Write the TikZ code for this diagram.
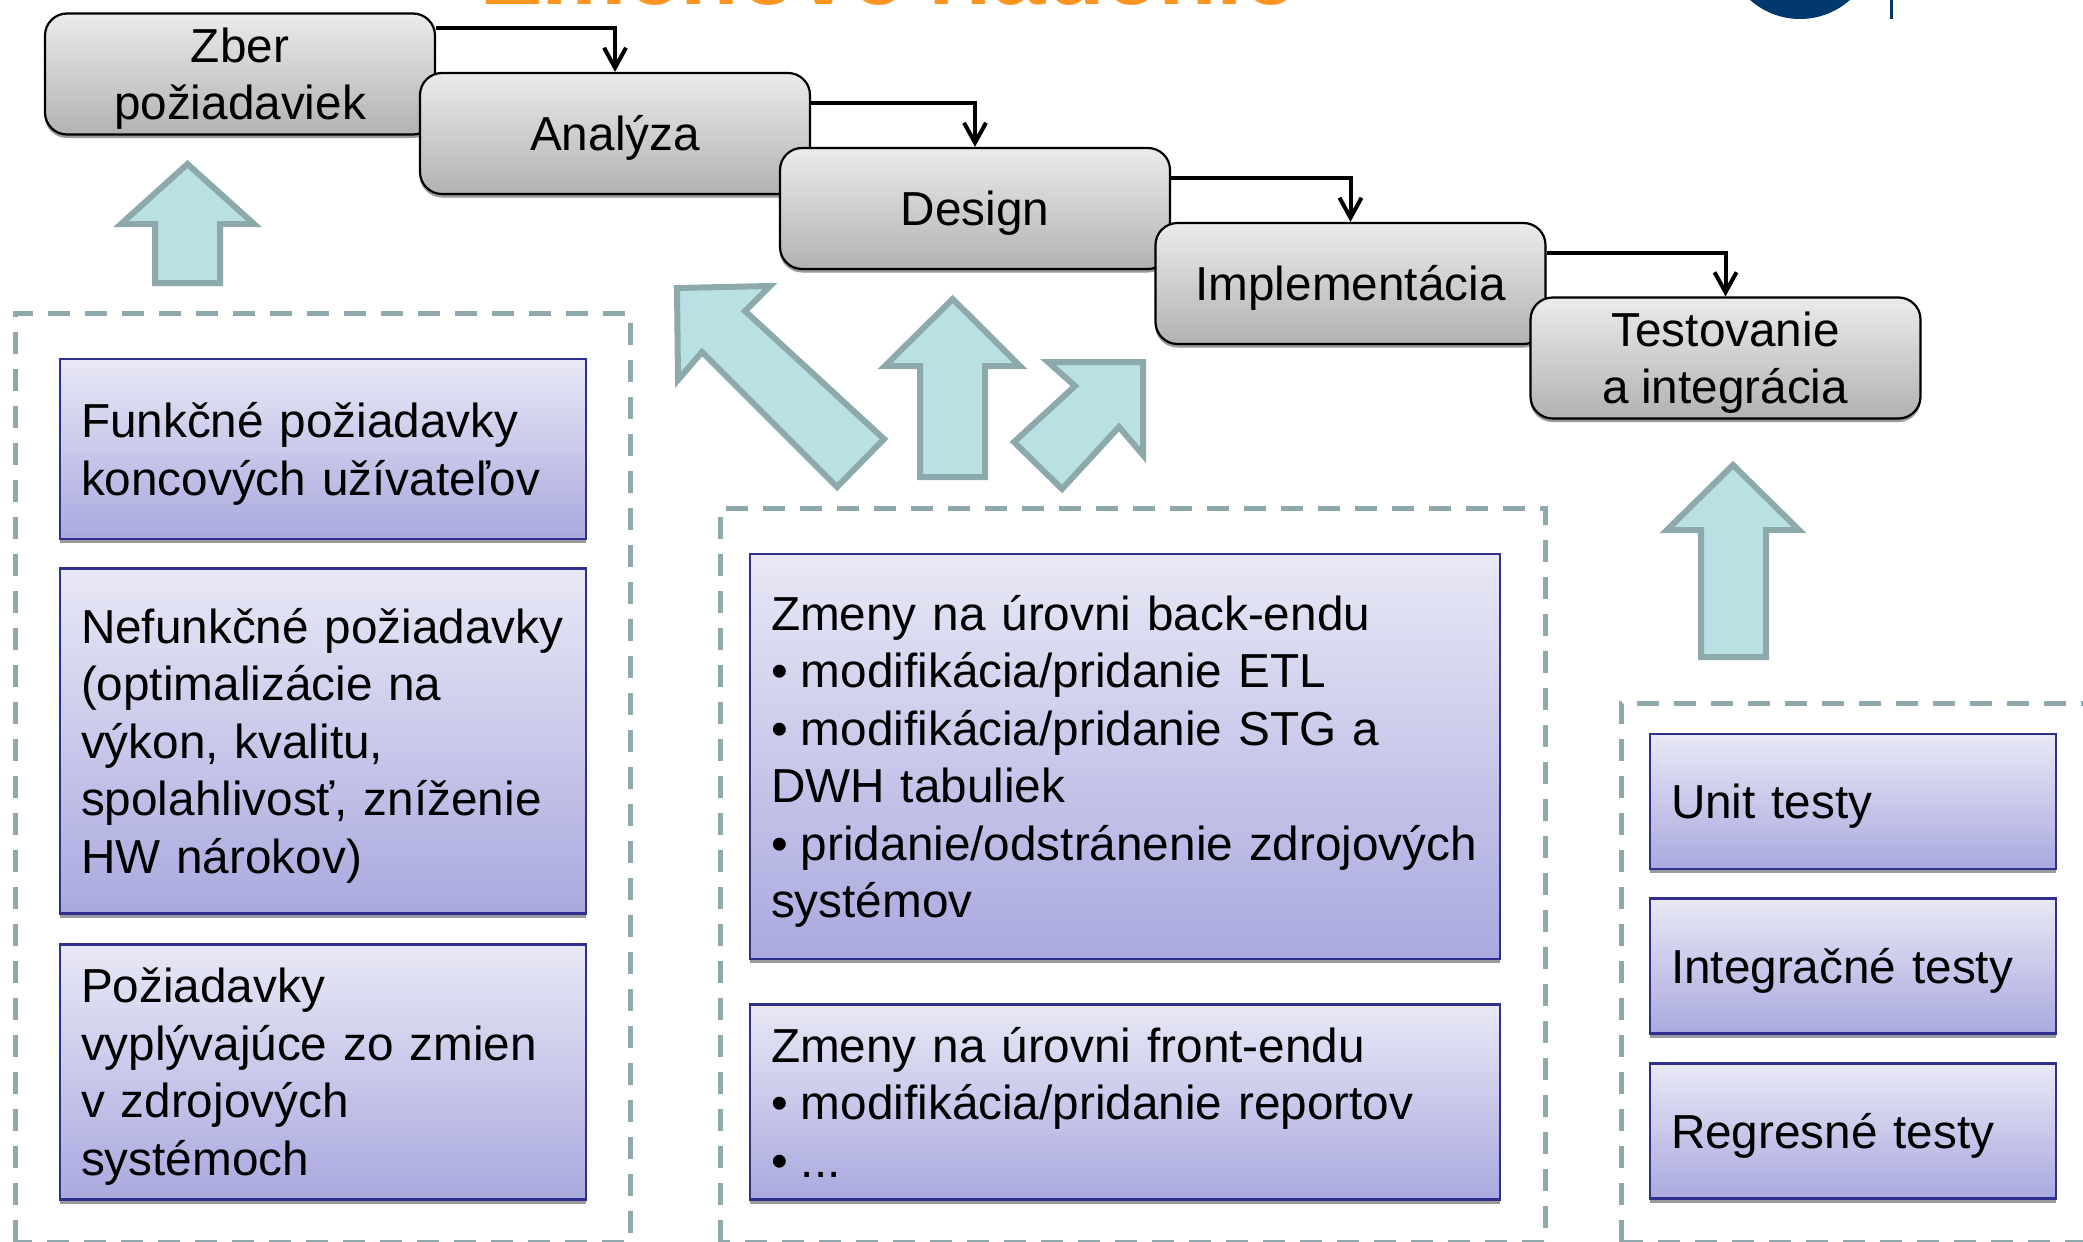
\documentclass[tikz,border=0pt]{standalone}
\usepackage{fontspec}
\setmainfont[WordSpace=0.9]{Liberation Sans}
\hyphenpenalty=10000
\exhyphenpenalty=10000
\usetikzlibrary{arrows.meta}
\definecolor{dashcol}{HTML}{8DA9AB}
\definecolor{arrowfill}{HTML}{B9E0E2}
\definecolor{bluetop}{HTML}{E8E8F6}
\definecolor{bluebot}{HTML}{A9A9DF}
\definecolor{blueedge}{HTML}{2F2F8F}
\definecolor{greytop}{HTML}{EBEBEB}
\definecolor{greybot}{HTML}{B2B2B2}
\definecolor{shadowcol}{HTML}{9A9A9A}
\definecolor{titlecol}{HTML}{FF9420}
\definecolor{logocol}{HTML}{003A6C}
\newcommand{\lowered}[1]{\raisebox{-4.8pt}[\height][\depth]{#1}}
\newcommand{\centred}[1]{\lowered{\parbox{380pt}{\centering #1}}}
\newcommand{\lefted}[2]{\lowered{\parbox{#1}{\raggedright #2}}}
\newcommand{\bul}{\makebox[30pt][l]{•}}
\tikzset{
 x=1pt,y=-1pt,
 txt/.style={font=\fontsize{47.7}{57.5}\selectfont},
 greybox/.style={txt,draw=black,line width=2.2pt,rounded corners=22pt,top color=greytop,bottom color=greybot,
   minimum width=390pt,minimum height=121pt,align=center,inner sep=0pt,
   preaction={fill=shadowcol,draw=shadowcol,line width=1pt,transform canvas={yshift=-3pt}}},
 bluebox/.style={txt,draw=blueedge,line width=2.2pt,top color=bluetop,bottom color=bluebot,
   align=left,inner xsep=21pt,inner ysep=0pt,
   preaction={fill=shadowcol,transform canvas={yshift=-4pt}}},
 leftcol/.style={bluebox,minimum width=526pt,text width=484pt},
 midcol/.style={bluebox,minimum width=750pt,text width=708pt},
 rightcol/.style={bluebox,minimum width=406pt,text width=364pt,minimum height=135pt},
 flow/.style={draw=black,line width=4pt,-{Straight Barb[length=20pt,width=22pt,line width=4pt]}},
 bigarrow/.style={draw=dashcol,fill=arrowfill,line width=6pt,miter limit=10},
 dashbox/.style={draw=dashcol,line width=5pt,dash pattern=on 22pt off 15pt},
}
\begin{document}
\begin{tikzpicture}
\useasboundingbox (0,0) rectangle (2083,1242);
\clip (0,0) rectangle (2083,1242);
\fill[white] (0,0) rectangle (2083,1242);
% clipped header
\node[anchor=base west,inner sep=0pt,text=titlecol,font=\fontsize{96}{100}\bfseries\selectfont] (title) at (483,5) {Zmenové riadenie};
\fill[logocol] (1800,-56) circle[radius=75];
\draw[logocol,line width=3pt] (1891,0) -- (1891,19);
% dashed frames
\draw[dashbox] (15,1242) -- (15,313) -- (630,313) -- (630,1242) -- cycle;
\draw[dashbox] (720,1242) -- (720,508) -- (1545,508) -- (1545,1242) -- cycle;
\draw[dashbox] (1621,1242) -- (1621,703) -- (2100,703);
\draw[dashbox] (1621,1242) -- (2100,1242);
% process boxes
\node[greybox] (zber) at (240,74) {\centred{Zber\\požiadaviek}};
\node[greybox] (analyza) at (615,133.5) {\lowered{Analýza}};
\node[greybox] (design) at (975,208.5) {\lowered{Design}};
\node[greybox] (impl) at (1350.5,283.5) {\lowered{Implementácia}};
\node[greybox] (test) at (1725.5,358) {\centred{Testovanie\\a integrácia}};
\draw[flow] ([yshift=-16pt]zber.north east) -| (analyza.north);
\draw[flow] ([yshift=-31pt]analyza.north east) -| (design.north);
\draw[flow] ([yshift=-31pt]design.north east) -| (impl.north);
\draw[flow] ([yshift=-31pt]impl.north east) -| (test.north);
% block arrows
\draw[bigarrow] (187.5,164) -- (254,224) -- (220,224) -- (220,283) -- (155,283) -- (155,224) -- (121,224) -- cycle;
\draw[bigarrow] (677,288) -- (770,286) -- (745,311) -- (884,439) -- (837,487) -- (702,352) -- (678,380) -- cycle;
\draw[bigarrow] (952.7,299) -- (1020,366) -- (985,366) -- (985,477) -- (920,477) -- (920,366) -- (885,366) -- cycle;
\draw[bigarrow] (1143,362) -- (1048,362) -- (1075,386) -- (1014,442) -- (1062,489) -- (1119,427) -- (1143,455) -- cycle;
\draw[bigarrow] (1733,465) -- (1799,530) -- (1766,530) -- (1766,657) -- (1701,657) -- (1701,530) -- (1667,530) -- cycle;
% requirement boxes
\node[leftcol,minimum height=180pt] (funk) at (323,449) {\lefted{484pt}{Funkčné požiadavky\\koncových užívateľov}};
\node[leftcol,minimum height=345pt] (nefunk) at (323,741) {\lefted{484pt}{Nefunkčné požiadavky\\(optimalizácie na\\výkon, kvalitu,\\spolahlivosť, zníženie\\HW nárokov)}};
\node[leftcol,minimum height=255pt] (zdroje) at (323,1072) {\lefted{484pt}{Požiadavky\\vyplývajúce zo zmien\\v zdrojových\\systémoch}};
\node[midcol,minimum height=405pt] (back) at (1125,756.5) {\lefted{708pt}{Zmeny na úrovni back-endu\\\bul modifikácia/pridanie ETL\\\bul modifikácia/pridanie STG a\\DWH tabuliek\\\bul pridanie/odstránenie zdrojových\\systémov}};
\node[midcol,minimum height=195pt] (front) at (1125,1102) {\parbox{708pt}{\raggedright Zmeny na úrovni front-endu\\\bul modifikácia/pridanie reportov\\\bul ...}};
\node[rightcol] (unit) at (1853,801.5) {\lowered{Unit testy}};
\node[rightcol] (integ) at (1853,966) {\lowered{Integračné testy}};
\node[rightcol] (regr) at (1853,1131) {\lowered{Regresné testy}};
\end{tikzpicture}
\end{document}
